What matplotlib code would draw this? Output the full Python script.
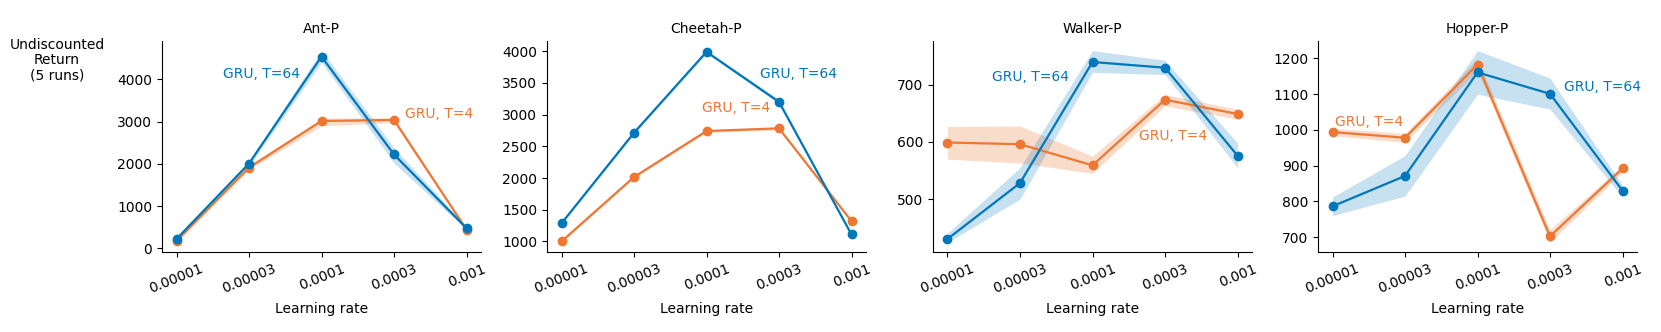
import matplotlib
matplotlib.use("Agg")
import matplotlib.pyplot as plt
import numpy as np

# learning rates on the x axis (categorical)
lr_labels = ["0.00001", "0.00003", "0.0001", "0.0003", "0.001"]
env_names = ["Ant-P", "Cheetah-P", "Walker-P", "Hopper-P"]

# GRU, T=64 (mean, lower, upper)
ant_t64 = [221, 2007, 4538, 2221, 476]
ant_t64_lo = [160, 1950, 4400, 2020, 440]
ant_t64_hi = [270, 2060, 4680, 2380, 520]
cheetah_t64 = [1286, 2714, 3990, 3201, 1110]
cheetah_t64_lo = [1270, 2695, 3970, 3170, 1095]
cheetah_t64_hi = [1300, 2730, 4010, 3235, 1125]
walker_t64 = [430, 528, 740, 730, 576]
walker_t64_lo = [424, 500, 722, 718, 555]
walker_t64_hi = [440, 555, 760, 743, 598]
hopper_t64 = [786, 871, 1161, 1101, 830]
hopper_t64_lo = [760, 815, 1100, 1058, 812]
hopper_t64_hi = [812, 928, 1222, 1145, 845]

# GRU, T=4
ant_t4 = [181, 1912, 3014, 3038, 445]
ant_t4_lo = [140, 1860, 2900, 2980, 410]
ant_t4_hi = [220, 1960, 3080, 3090, 480]
cheetah_t4 = [1000, 2016, 2741, 2784, 1320]
cheetah_t4_lo = [985, 2000, 2720, 2760, 1300]
cheetah_t4_hi = [1015, 2035, 2760, 2805, 1340]
walker_t4 = [599, 596, 559, 674, 649]
walker_t4_lo = [570, 563, 545, 663, 640]
walker_t4_hi = [627, 628, 575, 683, 657]
hopper_t4 = [994, 978, 1183, 702, 892]
hopper_t4_lo = [984, 965, 1165, 685, 882]
hopper_t4_hi = [1004, 990, 1200, 720, 902]

# text labels: (x index, y value)
t64_label_pos = [(1.7, 4120), (2.74, 3640), (0.61, 713), (3.19, 1121)]
t64_label_ha = ["right", "left", "left", "left"]
t4_label_pos = [(3.15, 3175), (1.94, 3100), (2.64, 611), (0.03, 1022)]
t4_label_ha = ["left", "left", "left", "left"]

BLUE = "#0077BB"
ORANGE = "#EE7733"

t64 = [(ant_t64, ant_t64_lo, ant_t64_hi), (cheetah_t64, cheetah_t64_lo, cheetah_t64_hi),
       (walker_t64, walker_t64_lo, walker_t64_hi), (hopper_t64, hopper_t64_lo, hopper_t64_hi)]
t4 = [(ant_t4, ant_t4_lo, ant_t4_hi), (cheetah_t4, cheetah_t4_lo, cheetah_t4_hi),
      (walker_t4, walker_t4_lo, walker_t4_hi), (hopper_t4, hopper_t4_lo, hopper_t4_hi)]

plt.rcParams["font.family"] = ["DejaVu Sans"]
plt.rcParams["font.size"] = 10

fig = plt.figure(figsize=(16.61, 3.32), dpi=100)
lefts = [162, 547, 933, 1318]
x = np.arange(len(lr_labels))

for i, name in enumerate(env_names):
    ax = fig.add_axes([lefts[i] / 1661, 1 - 252 / 332, 319 / 1661, 211 / 332])
    # T=4 first so T=64 sits on top
    m, lo, hi = t4[i]
    ax.fill_between(x, lo, hi, color=ORANGE, alpha=0.25, linewidth=0)
    ax.plot(x, m, color=ORANGE, marker="o", markersize=6, linewidth=1.6)
    m, lo, hi = t64[i]
    ax.fill_between(x, lo, hi, color=BLUE, alpha=0.22, linewidth=0)
    ax.plot(x, m, color=BLUE, marker="o", markersize=6, linewidth=1.6)

    ax.text(*t64_label_pos[i], "GRU, T=64", color=BLUE, fontsize=10,
            ha=t64_label_ha[i], va="center")
    ax.text(*t4_label_pos[i], "GRU, T=4", color=ORANGE, fontsize=10,
            ha=t4_label_ha[i], va="center")

    ax.set_xticks(x)
    ax.set_xticklabels(lr_labels, rotation=22)
    ax.set_xlabel("Learning rate")
    ax.set_title(name, fontsize=10)
    ax.spines["top"].set_visible(False)
    ax.spines["right"].set_visible(False)

fig.text(57 / 1661, 1 - 38 / 332, "Undiscounted\nReturn\n(5 runs)",
         ha="center", va="top", fontsize=10, linespacing=1.1)

fig.savefig("out.png", dpi=100)
